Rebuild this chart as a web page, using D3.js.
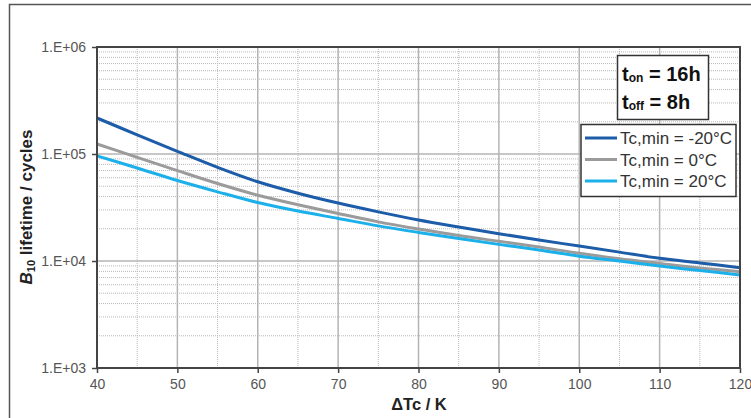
<!DOCTYPE html>
<html>
<head>
<meta charset="utf-8">
<script src="https://cdn.jsdelivr.net/npm/d3@7"></script>
<style>
  body { margin: 0; background: #fff; }
  svg { display: block; font-family: "Liberation Sans", Arial, sans-serif; }
</style>
</head>
<body>
<div id="chart"></div>
<script>
const deltaTc = [40, 45, 50, 55, 60, 65, 70, 75, 80, 85, 90, 95, 100, 105, 110, 115, 120];
const lifeMinus20 = [217000, 151000, 106000, 75000, 55000, 43000, 34800, 28800, 24200, 20800, 18000, 15700, 13800, 12100, 10600, 9600, 8650];
const life0 = [124000, 93000, 70000, 53000, 41200, 33600, 27800, 23200, 19900, 17300, 15300, 13500, 11800, 10500, 9500, 8600, 7940];
const life20 = [96000, 74000, 56500, 44300, 35200, 29300, 25000, 21300, 18500, 16200, 14300, 12700, 11100, 10000, 8970, 8150, 7400];
const seriesNames = ["Tc,min = -20°C", "Tc,min = 0°C", "Tc,min = 20°C"];
const seriesColors = ["#1c5ca8", "#9b9b9b", "#1cb0ea"];
const xTicks = [40, 50, 60, 70, 80, 90, 100, 110, 120];
const yTicks = [1e3, 1e4, 1e5, 1e6];
const yTickLabels = ["1.E+03", "1.E+04", "1.E+05", "1.E+06"];

const width = 751, height = 418;
const margin = { left: 97, right: 11, top: 47, bottom: 50 };

const svg = d3.select("#chart").append("svg")
  .attr("width", width)
  .attr("height", height);

// outer frame
svg.append("path")
  .attr("d", `M9.5,${height + 2} V4.5 H${width + 2}`)
  .attr("fill", "none")
  .attr("stroke", "#555")
  .attr("stroke-width", 1.5);

const x = d3.scaleLinear().domain([40, 120]).range([margin.left, width - margin.right]);
const y = d3.scaleLog().domain([1e3, 1e6]).range([height - margin.bottom, margin.top]);

const grid = svg.append("g");

// minor grid
const minorX = d3.range(45, 120, 10);
const minorY = [];
[1e3, 1e4, 1e5].forEach((d) => d3.range(2, 10).forEach((k) => minorY.push(d * k)));

grid.selectAll("line.mx").data(minorX).join("line")
  .attr("x1", (d) => x(d)).attr("x2", (d) => x(d))
  .attr("y1", y(1e3)).attr("y2", y(1e6))
  .attr("stroke", "#b8b8b8").attr("stroke-width", 1)
  .attr("stroke-dasharray", "1,1");

grid.selectAll("line.my").data(minorY).join("line")
  .attr("x1", x(40)).attr("x2", x(120))
  .attr("y1", (d) => y(d)).attr("y2", (d) => y(d))
  .attr("stroke", "#b8b8b8").attr("stroke-width", 1)
  .attr("stroke-dasharray", "1,1");

// major grid
grid.selectAll("line.gx").data(xTicks).join("line")
  .attr("x1", (d) => x(d)).attr("x2", (d) => x(d))
  .attr("y1", y(1e3)).attr("y2", y(1e6))
  .attr("stroke", "#b4b4b4").attr("stroke-width", 1.5);

grid.selectAll("line.gy").data(yTicks).join("line")
  .attr("x1", x(40)).attr("x2", x(120))
  .attr("y1", (d) => y(d)).attr("y2", (d) => y(d))
  .attr("stroke", "#b4b4b4").attr("stroke-width", 1.5);

// curves
const allSeries = [lifeMinus20, life0, life20];
const line = d3.line()
  .x((d, i) => x(deltaTc[i]))
  .y((d) => y(d))
  .curve(d3.curveCatmullRom);

svg.append("g").selectAll("path").data(allSeries).join("path")
  .attr("d", line)
  .attr("fill", "none")
  .attr("stroke", (d, i) => seriesColors[i])
  .attr("stroke-width", 3);

// plot frame
svg.append("rect")
  .attr("x", x(40)).attr("y", y(1e6))
  .attr("width", x(120) - x(40)).attr("height", y(1e3) - y(1e6))
  .attr("fill", "none")
  .attr("stroke", "#444")
  .attr("stroke-width", 2);

// axes
const xAxis = svg.append("g")
  .attr("transform", `translate(0,${y(1e3)})`)
  .call(d3.axisBottom(x).tickValues(xTicks).tickSize(5).tickPadding(6));
const yAxis = svg.append("g")
  .attr("transform", `translate(${x(40)},0)`)
  .call(d3.axisLeft(y).tickValues(yTicks).tickSize(5).tickPadding(6)
    .tickFormat((d, i) => yTickLabels[i]));

[xAxis, yAxis].forEach((g) => {
  g.select(".domain").remove();
  g.selectAll(".tick line").attr("stroke", "#444").attr("stroke-width", 1.5);
  g.selectAll(".tick text")
    .attr("font-size", 14)
    .attr("fill", "#555")
    .attr("font-family", "Liberation Sans, Arial, sans-serif");
});

// axis titles
svg.append("text")
  .attr("x", 419).attr("y", 410)
  .attr("text-anchor", "middle")
  .attr("font-size", 16.5)
  .attr("font-weight", "bold")
  .attr("fill", "#222")
  .text("ΔTc / K");

const yTitle = svg.append("text")
  .attr("transform", "translate(32,207) rotate(-90)")
  .attr("text-anchor", "middle")
  .attr("font-size", 17)
  .attr("font-weight", "bold")
  .attr("fill", "#222");
yTitle.append("tspan").attr("font-style", "italic").text("B");
yTitle.append("tspan").attr("font-size", 11).attr("dy", 3).text("10");
yTitle.append("tspan").attr("dy", -3).text(" lifetime / cycles");

// t_on / t_off box
const info = svg.append("g");
info.append("rect")
  .attr("x", 617.5).attr("y", 55.5)
  .attr("width", 91).attr("height", 64)
  .attr("fill", "#fff")
  .attr("stroke", "#333")
  .attr("stroke-width", 1.5);
[["on", " = 16h", 81], ["off", " = 8h", 109]].forEach(([sub, rest, yy]) => {
  const t = info.append("text")
    .attr("x", 622).attr("y", yy)
    .attr("font-size", 20)
    .attr("font-weight", "bold")
    .attr("fill", "#111");
  t.append("tspan").text("t");
  t.append("tspan").attr("font-size", 12).attr("dy", 1).text(sub);
  t.append("tspan").attr("dy", -1).text(rest);
});

// legend
const legend = svg.append("g");
legend.append("rect")
  .attr("x", 581).attr("y", 124.5)
  .attr("width", 155).attr("height", 72)
  .attr("fill", "#fff")
  .attr("stroke", "#333")
  .attr("stroke-width", 1.5);
const rows = legend.selectAll("g").data(seriesNames).join("g")
  .attr("transform", (d, i) => `translate(585,${138 + i * 21.5})`);
rows.append("line")
  .attr("x1", 0).attr("x2", 32)
  .attr("stroke", (d, i) => seriesColors[i])
  .attr("stroke-width", 3);
rows.append("text")
  .attr("x", 35).attr("dy", "0.36em")
  .attr("font-size", 17)
  .attr("fill", "#333")
  .text((d) => d);
</script>
</body>
</html>
